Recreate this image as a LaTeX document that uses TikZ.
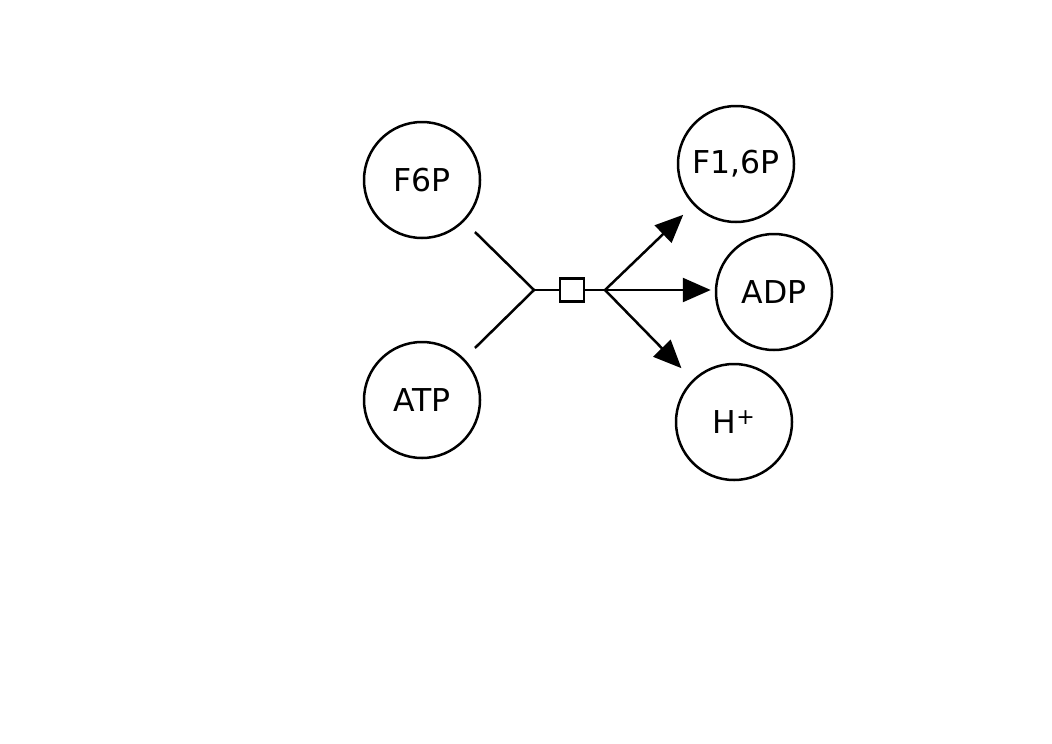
\documentclass[tikz,border=0pt]{standalone}
\usepackage{fontspec}
\setmainfont{DejaVu Sans}
\usetikzlibrary{arrows.meta}
\begin{document}
\begin{tikzpicture}[x=1pt,y=-1pt,
  species/.style={circle,draw,line width=2.5pt,minimum size=116pt,inner sep=0pt,font=\fontsize{31.5}{34}\selectfont},
  link/.style={line width=2.5pt},
  arr/.style={line width=2.5pt,-{Triangle[length=28pt,width=24pt]}},
  proc/.style={draw,line width=2.5pt,minimum width=24pt,minimum height=23pt,inner sep=0pt,fill=white}]
\useasboundingbox (0,0) rectangle (1052,744);
\node[species] (F6P) at (422,180) {F6P};
\node[species] (ATP) at (422,400) {ATP};
\node[species] (F16P) at (736,164) {F1,6P};
\node[species] (ADP) at (774,292) {\raisebox{-3pt}{ADP}};
\node[species] (H) at (734,422) {H\textsuperscript{+}};
\coordinate (j) at (534,290);
\coordinate (b) at (605,290);
\node[proc] (p) at (572,290) {};
\draw[link,shorten <=15pt] (F6P) -- (j);
\draw[link,shorten <=15pt] (ATP) -- (j);
\draw[link] (j) -- (p.west);
\draw[link] (p.east) -- (b);
\draw[arr,shorten >=14pt] (b) -- (F16P);
\draw[arr,shorten >=4pt] (b) -- (ADP.west |- b);
\draw[arr,shorten >=16pt] (b) -- (H);
\end{tikzpicture}
\end{document}
